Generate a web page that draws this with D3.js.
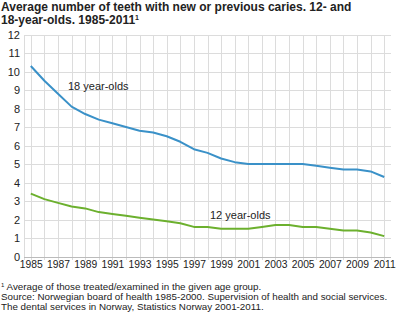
<!DOCTYPE html>
<html>
<head>
<meta charset="utf-8">
<script src="https://cdn.jsdelivr.net/npm/d3@7"></script>
<style>
  body { margin: 0; background: #fff; }
  svg { display: block; font-family: "Liberation Sans", Arial, sans-serif; }
  .grid line { stroke: #dcdcdc; stroke-width: 1; shape-rendering: crispEdges; }
  .tick text { fill: #222; }
</style>
</head>
<body>
<div class="chart"></div>
<script>
// Average number of teeth with caries, per year
var years = d3.range(1985, 2012);
var age18 = [10.3, 9.5, 8.8, 8.1, 7.7, 7.4, 7.2, 7.0, 6.8, 6.7, 6.5, 6.2, 5.8, 5.6,
             5.3, 5.1, 5.0, 5.0, 5.0, 5.0, 5.0, 4.9, 4.8, 4.7, 4.7, 4.6, 4.3];
var age12 = [3.4, 3.1, 2.9, 2.7, 2.6, 2.4, 2.3, 2.2, 2.1, 2.0, 1.9, 1.8, 1.6, 1.6,
             1.5, 1.5, 1.5, 1.6, 1.7, 1.7, 1.6, 1.6, 1.5, 1.4, 1.4, 1.3, 1.1];
var yTicks = d3.range(0, 13);
var xTicks = d3.range(1985, 2012, 2);
var seriesNames = ["18 year-olds", "12 year-olds"];

var width = 397, height = 321;
var margin = { top: 34.5, right: 6, bottom: 64.5, left: 24 };

var svg = d3.select(".chart").append("svg")
    .attr("width", width)
    .attr("height", height);

// title, two lines, with footnote marker
var title = svg.append("text")
    .attr("font-weight", "bold")
    .attr("font-size", 12)
    .attr("fill", "#222");
title.append("tspan").attr("x", 1).attr("y", 11)
    .text("Average number of teeth with new or previous caries. 12- and");
title.append("tspan").attr("x", 1).attr("y", 24)
    .text("18-year-olds. 1985-2011");
title.append("tspan").attr("font-size", 7).attr("dy", -4).text("1");

var x = d3.scalePoint()
    .domain(years)
    .range([margin.left, width - margin.right])
    .padding(0.5);

var y = d3.scaleLinear()
    .domain([0, 12])
    .range([height - margin.bottom, margin.top]);

// horizontal grid
svg.append("g").attr("class", "grid")
    .selectAll("line")
    .data(yTicks)
    .join("line")
    .attr("x1", margin.left)
    .attr("x2", width - margin.right)
    .attr("y1", function (d) { return Math.round(y(d)) + 0.5; })
    .attr("y2", function (d) { return Math.round(y(d)) + 0.5; });

// vertical grid at the left edge and every year
svg.append("g").attr("class", "grid")
    .selectAll("line")
    .data([null].concat(years))
    .join("line")
    .attr("x1", function (d) { return d === null ? margin.left : Math.round(x(d)) + 0.5; })
    .attr("x2", function (d) { return d === null ? margin.left : Math.round(x(d)) + 0.5; })
    .attr("y1", y(12))
    .attr("y2", y(0) + 3);

// axis base line
svg.append("line")
    .attr("x1", margin.left).attr("x2", width - margin.right)
    .attr("y1", Math.round(y(0)) + 0.5).attr("y2", Math.round(y(0)) + 0.5)
    .attr("stroke", "#bbb")
    .attr("shape-rendering", "crispEdges");

// y axis labels
var yAxis = svg.append("g")
    .attr("transform", "translate(" + (margin.left - 4) + ",0)")
    .call(d3.axisLeft(y).tickValues(yTicks).tickSize(0).tickPadding(0));
yAxis.select(".domain").remove();
yAxis.selectAll("text").attr("font-size", 11).attr("font-family", null).attr("dy", "0.36em");

// x axis labels
var xAxis = svg.append("g")
    .attr("transform", "translate(0," + (y(0) + 2) + ")")
    .call(d3.axisBottom(x).tickValues(xTicks).tickSize(0).tickPadding(0));
xAxis.select(".domain").remove();
xAxis.selectAll("text").attr("font-size", 10.3).attr("font-family", null).attr("dy", "0.95em");

var line = d3.line()
    .x(function (d, i) { return x(years[i]); })
    .y(function (d) { return y(d); });

var colors = ["#3a91c8", "#6cb02e"];
[age18, age12].forEach(function (s, k) {
    svg.append("path")
        .datum(s)
        .attr("fill", "none")
        .attr("stroke", colors[k])
        .attr("stroke-width", 2)
        .attr("stroke-linejoin", "round")
        .attr("d", line);
});

// series labels
svg.append("text").attr("x", 68).attr("y", 90)
    .attr("font-size", 11).attr("fill", "#222").text(seriesNames[0]);
svg.append("text").attr("x", 210).attr("y", 219)
    .attr("font-size", 11).attr("fill", "#222").text(seriesNames[1]);

// notes and source
var notes = svg.append("text")
    .attr("font-size", 9.8)
    .attr("fill", "#222");
var n1 = notes.append("tspan").attr("x", 1).attr("y", 290);
n1.append("tspan").attr("font-size", 6).attr("dy", -3).text("1");
n1.append("tspan").attr("dy", 3).text(" Average of those treated/examined in the given age group.");
notes.append("tspan").attr("x", 1).attr("y", 300)
    .text("Source: Norwegian board of health 1985-2000. Supervision of health and social services.");
notes.append("tspan").attr("x", 1).attr("y", 310)
    .text("The dental services in Norway, Statistics Norway 2001-2011.");
</script>
</body>
</html>
